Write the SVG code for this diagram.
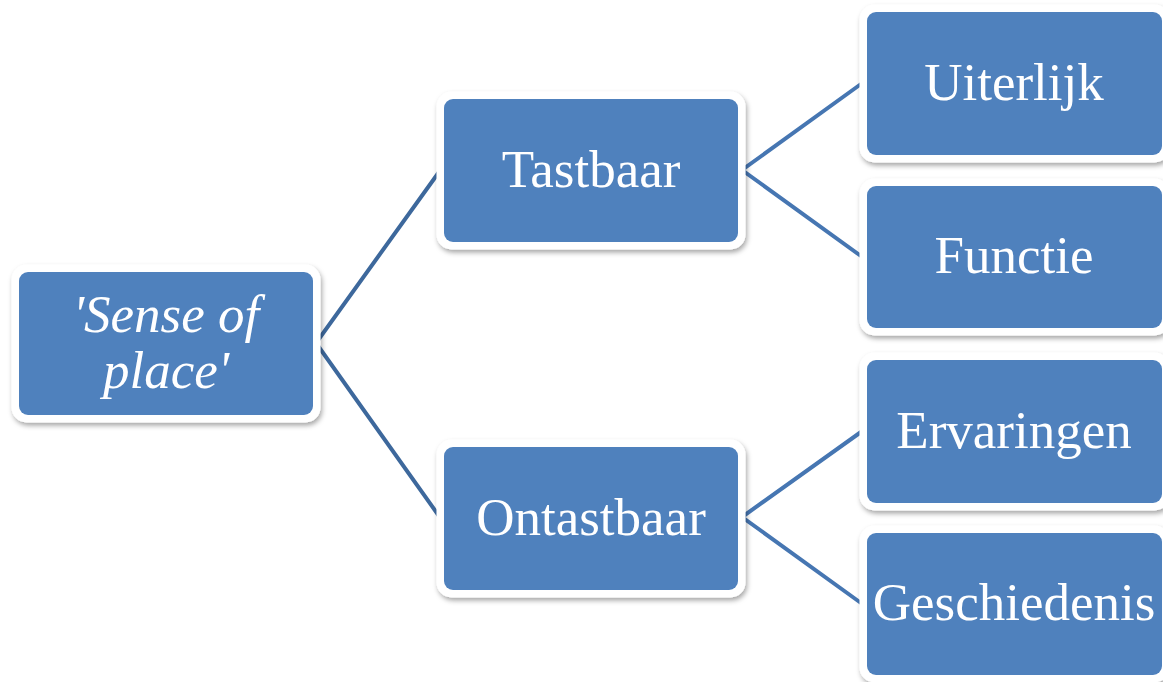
<svg xmlns="http://www.w3.org/2000/svg" width="1163" height="682" viewBox="0 0 1163 682">
<defs>
<filter id="sh" x="-10%" y="-10%" width="120%" height="130%">
<feDropShadow dx="1.5" dy="3" stdDeviation="2.5" flood-color="#000" flood-opacity="0.35"/>
</filter>
<style>
.rim{fill:#fff;filter:url(#sh)}
.box{fill:#4F81BD}
.t{font-family:"Liberation Serif","Times New Roman",serif;font-size:53px;fill:#fff;text-anchor:middle}
.i{font-style:italic}
.c1{stroke:#3D689C;stroke-width:4;fill:none;stroke-linejoin:miter}
.c2{stroke:#4676B2;stroke-width:4;fill:none;stroke-linejoin:miter}
</style>
</defs>
<rect width="1163" height="682" fill="#fff"/>
<g id="connectors">
<polyline class="c1" points="439,172 316,343 439,516"/>
<polyline class="c2" points="861,84 742,170 861,256"/>
<polyline class="c2" points="861,432 742,517 861,603"/>
</g>
<g id="root">
<rect class="rim" x="11.5" y="264.5" width="309" height="158" rx="15"/>
<rect class="box" x="19" y="272" width="294" height="143" rx="9"/>
<text class="t i" x="166" y="332">'Sense of</text>
<text class="t i" x="166" y="388">place'</text>
</g>
<g id="tastbaar">
<rect class="rim" x="436.5" y="91.5" width="309" height="158" rx="15"/>
<rect class="box" x="444" y="99" width="294" height="143" rx="9"/>
<text class="t" x="591" y="187">Tastbaar</text>
</g>
<g id="ontastbaar">
<rect class="rim" x="436.5" y="439.5" width="309" height="158" rx="15"/>
<rect class="box" x="444" y="447" width="294" height="143" rx="9"/>
<text class="t" x="591" y="535">Ontastbaar</text>
</g>
<g id="uiterlijk">
<rect class="rim" x="859.5" y="4.5" width="310" height="158" rx="15"/>
<rect class="box" x="867" y="12" width="295" height="143" rx="9"/>
<text class="t" x="1014" y="100">Uiterlijk</text>
</g>
<g id="functie">
<rect class="rim" x="859.5" y="178.5" width="310" height="157" rx="15"/>
<rect class="box" x="867" y="186" width="295" height="142" rx="9"/>
<text class="t" x="1014" y="273">Functie</text>
</g>
<g id="ervaringen">
<rect class="rim" x="859.5" y="352.5" width="310" height="158" rx="15"/>
<rect class="box" x="867" y="360" width="295" height="143" rx="9"/>
<text class="t" x="1014" y="448">Ervaringen</text>
</g>
<g id="geschiedenis">
<rect class="rim" x="859.5" y="525.5" width="310" height="157" rx="15"/>
<rect class="box" x="867" y="533" width="295" height="142" rx="9"/>
<text class="t" x="1014" y="620">Geschiedenis</text>
</g>
</svg>
